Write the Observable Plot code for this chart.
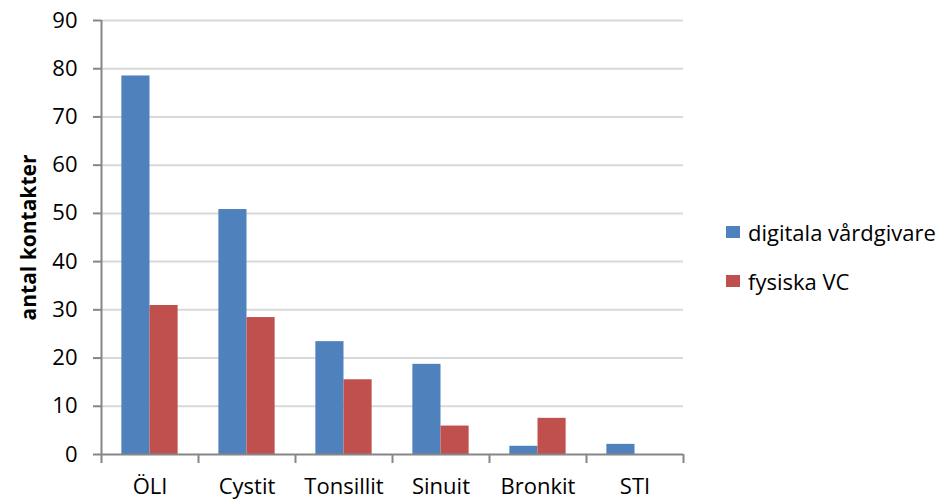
<!DOCTYPE html>
<html>
<head>
<meta charset="utf-8">
<script src="https://cdn.jsdelivr.net/npm/d3@7"></script>
<script src="https://cdn.jsdelivr.net/npm/@observablehq/plot@0.6"></script>
<style>
  html, body { margin: 0; padding: 0; background: #fff; }
  #wrap { position: relative; width: 951px; height: 502px; font-family: "Open Sans", sans-serif; }
  #legend { position: absolute; left: 726px; top: 215px; font-size: 22px; color: #000; }
  #legend .row { display: flex; align-items: center; height: 34px; margin-bottom: 15px; }
  #legend .sw { width: 14px; height: 12px; margin-right: 8px; }
</style>
</head>
<body>
<div id="wrap"><div id="legend"></div></div>
<script>
const categories = ["ÖLI", "Cystit", "Tonsillit", "Sinuit", "Bronkit", "STI"];
const seriesNames = ["digitala vårdgivare", "fysiska VC"];
const digitala = [78.5, 50.8, 23.4, 18.7, 1.7, 2.1];
const fysiska = [30.9, 28.4, 15.5, 5.9, 7.5, 0];
const yTicks = [0, 10, 20, 30, 40, 50, 60, 70, 80, 90];
const colors = ["#4F81BD", "#C0504D"];

const data = [];
categories.forEach((c, i) => {
  data.push({cat: c, idx: i, series: seriesNames[0], s: 0, value: digitala[i]});
  data.push({cat: c, idx: i, series: seriesNames[1], s: 1, value: fysiska[i]});
});

const pad = 0.21;
const bw = (1 - 2 * pad) / 2;

const chart = Plot.plot({
  width: 951,
  height: 502,
  marginLeft: 101,
  marginRight: 268,
  marginTop: 20,
  marginBottom: 48,
  style: {fontFamily: "Open Sans, sans-serif", fontSize: "22px", background: "white", color: "#000"},
  x: {type: "linear", domain: [0, categories.length], axis: null},
  y: {domain: [0, 90], axis: null},
  color: {domain: seriesNames, range: colors},
  marks: [
    Plot.gridY(yTicks.filter(t => t > 0), {stroke: "#d9d9d9", strokeOpacity: 1, strokeWidth: 2}),
    Plot.rectY(data, {
      x1: d => d.idx + pad + d.s * bw,
      x2: d => d.idx + pad + (d.s + 1) * bw,
      y1: 0,
      y2: "value",
      fill: "series"
    }),
    Plot.axisY({ticks: yTicks, tickSize: 8, tickPadding: 16, stroke: "#868686", strokeWidth: 2, fontSize: 22, label: null}),
    Plot.axisY({ticks: [], label: "antal kontakter", labelArrow: "none", labelAnchor: "center", labelOffset: 80, fontWeight: "bold", fontSize: 21}),
    Plot.axisX({ticks: d3.range(categories.length + 1), tickSize: 9, tickFormat: () => "", stroke: "#868686", strokeWidth: 2, label: null}),
    Plot.axisX(d3.range(categories.length).map(i => i + 0.5), {tickSize: 0, tickPadding: 24, tickFormat: v => categories[Math.round(v - 0.5)], fontSize: 22, label: null}),
    Plot.ruleX([0], {stroke: "#868686", strokeWidth: 2}),
    Plot.ruleY([0], {stroke: "#868686", strokeWidth: 2})
  ]
});

const wrap = document.getElementById("wrap");
wrap.insertBefore(chart, wrap.firstChild);

const legend = d3.select("#legend");
seriesNames.forEach((name, i) => {
  const row = legend.append("div").attr("class", "row");
  row.append("div").attr("class", "sw").style("background", colors[i]);
  row.append("span").text(name);
});
</script>
</body>
</html>
